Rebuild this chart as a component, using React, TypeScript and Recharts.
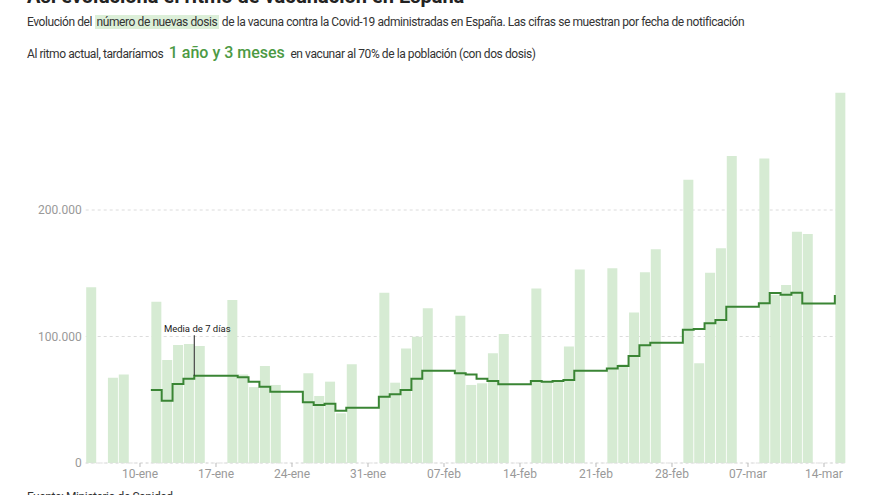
import { ComposedChart, Bar, Line, XAxis, YAxis, CartesianGrid, ReferenceLine } from 'recharts';

// one entry per day, 05-ene .. 15-mar (weekends / holidays have no bar)
const fechas = [
  '05-ene', '06-ene', '07-ene', '08-ene', '09-ene', '10-ene', '11-ene', '12-ene', '13-ene', '14-ene',
  '15-ene', '16-ene', '17-ene', '18-ene', '19-ene', '20-ene', '21-ene', '22-ene', '23-ene', '24-ene',
  '25-ene', '26-ene', '27-ene', '28-ene', '29-ene', '30-ene', '31-ene', '01-feb', '02-feb', '03-feb',
  '04-feb', '05-feb', '06-feb', '07-feb', '08-feb', '09-feb', '10-feb', '11-feb', '12-feb', '13-feb',
  '14-feb', '15-feb', '16-feb', '17-feb', '18-feb', '19-feb', '20-feb', '21-feb', '22-feb', '23-feb',
  '24-feb', '25-feb', '26-feb', '27-feb', '28-feb', '01-mar', '02-mar', '03-mar', '04-mar', '05-mar',
  '06-mar', '07-mar', '08-mar', '09-mar', '10-mar', '11-mar', '12-mar', '13-mar', '14-mar', '15-mar',
];

const dosis = [
  139000, null, 67400, 70000, null, null, 127500, 81400, 93300, 94000,
  92500, null, null, 128900, 70000, 60000, 76700, 61700, null, null,
  70900, 53000, 64300, 39300, 78000, null, null, 134600, 63500, 90600,
  99800, 122300, null, null, 116500, 61700, 63000, 86700, 102000, null,
  null, 138000, 64000, 64000, 92000, 153000, null, null, 154000, 78000,
  119000, 150700, 169000, null, null, 224000, 78800, 150400, 169700, 242700,
  null, null, 240800, 133000, 140700, 182900, 181000, null, null, 292700,
];

const media7 = [
  null, null, null, null, null, null, 57700, 49300, 62500, 66700,
  69000, 69000, 69000, 69000, 67700, 64300, 60300, 56400, 56400, 56400,
  48000, 45800, 46900, 41400, 43700, 43700, 43700, 52400, 54300, 57700,
  66700, 73000, 73000, 73000, 71000, 70000, 66700, 64800, 62200, 62200,
  62200, 64800, 64300, 64800, 65600, 73000, 73000, 73000, 74800, 76700,
  84600, 93000, 95100, 95100, 95100, 105400, 106000, 110400, 113000, 123600,
  123600, 123600, 126200, 134400, 133000, 134600, 126000, 126000, 126000, 132800,
];

const ticksFecha = ['10-ene', '17-ene', '24-ene', '31-ene', '07-feb', '14-feb', '21-feb', '28-feb', '07-mar', '14-mar'];
const ticksDosis = [0, 100000, 200000];

const data = fechas.map((fecha, i) => ({ fecha, idx: i, dosis: dosis[i], media: media7[i] }));

const font = 'Roboto, "Noto Sans", sans-serif';
const verde = '#3a8534';

const fmtMiles = (v: number) => String(v).replace(/\B(?=(\d{3})+(?!\d))/g, '.');

function Anotacion({ viewBox }: any) {
  if (!viewBox) return null;
  return (
    <text x={viewBox.x + 3} y={viewBox.y - 3} textAnchor="middle" fontSize={9.5} fill="#222" fontFamily={font}>
      Media de 7 días
    </text>
  );
}

export default function App() {
  return (
    <div style={{ position: 'fixed', left: 0, top: 0, width: 880, height: 495, overflow: 'hidden', background: '#fff', fontFamily: font, color: '#333' }}>
      <div style={{ position: 'absolute', left: 27, top: -14, fontSize: 20, lineHeight: '20px', fontWeight: 700, color: '#222', whiteSpace: 'nowrap' }}>
        Así evoluciona el ritmo de vacunación en España
      </div>
      <div style={{ position: 'absolute', left: 27, top: 13, fontSize: 12, lineHeight: '18px', letterSpacing: -0.42, whiteSpace: 'nowrap' }}>
        Evolución del{' '}
        <span style={{ background: '#dcefd8', padding: '0 2px' }}>número de nuevas dosis</span>{' '}
        de la vacuna contra la Covid-19 administradas en España. Las cifras se muestran por fecha de notificación
      </div>
      <div style={{ position: 'absolute', left: 27, top: 42, fontSize: 12, lineHeight: '22px', letterSpacing: -0.42, whiteSpace: 'nowrap' }}>
        Al ritmo actual, tardaríamos{' '}
        <span style={{ fontSize: 16, fontWeight: 500, color: '#4c9a44', margin: '0 3px', letterSpacing: 0 }}>1 año y 3 meses</span>{' '}
        en vacunar al 70% de la población (con dos dosis)
      </div>

      <div style={{ position: 'absolute', left: 0, top: 0 }}>
        <ComposedChart
          width={880}
          height={495}
          data={data}
          margin={{ top: 83.5, right: 34.3, bottom: 2, left: 25.7 }}
          barCategoryGap={0.5}
        >
          <CartesianGrid
            xAxisId="num"
            vertical={false}
            horizontalValues={ticksDosis}
            stroke="#dcdcdc"
            strokeDasharray="3 3"
          />
          <XAxis xAxisId="cat" dataKey="fecha" orientation="top" hide />
          <XAxis
            xAxisId="num"
            type="number"
            dataKey="idx"
            domain={[0, fechas.length]}
            ticks={ticksFecha.map((t) => fechas.indexOf(t))}
            tickFormatter={(v: number) => fechas[v]}
            height={30}
            axisLine={{ stroke: '#dddddd', strokeDasharray: '2 3' }}
            tickLine={{ stroke: '#bbbbbb' }}
            tickSize={4}
            tick={{ fill: '#999', fontSize: 12, fontFamily: font }}
            allowDataOverflow
          />
          <YAxis
            domain={[0, 300000]}
            ticks={ticksDosis}
            tickFormatter={fmtMiles}
            width={60}
            axisLine={false}
            tickLine={false}
            tickSize={0}
            tickMargin={4}
            tick={{ fill: '#999', fontSize: 12, fontFamily: font }}
          />
          <Bar xAxisId="cat" dataKey="dosis" fill="#d6ebd3" isAnimationActive={false} />
          <Line
            xAxisId="num"
            dataKey="media"
            type="stepAfter"
            stroke={verde}
            strokeWidth={2}
            dot={false}
            activeDot={false}
            isAnimationActive={false}
          />
          <ReferenceLine
            xAxisId="num"
            segment={[
              { x: fechas.indexOf('15-ene'), y: media7[fechas.indexOf('15-ene')] },
              { x: fechas.indexOf('15-ene'), y: 101000 },
            ]}
            stroke="#222"
            strokeWidth={1}
            label={<Anotacion />}
          />
        </ComposedChart>
      </div>

      <div style={{ position: 'absolute', left: 27, top: 489, fontSize: 12, lineHeight: '16px', letterSpacing: -0.42, whiteSpace: 'nowrap' }}>
        Fuente: Ministerio de Sanidad
      </div>
    </div>
  );
}
